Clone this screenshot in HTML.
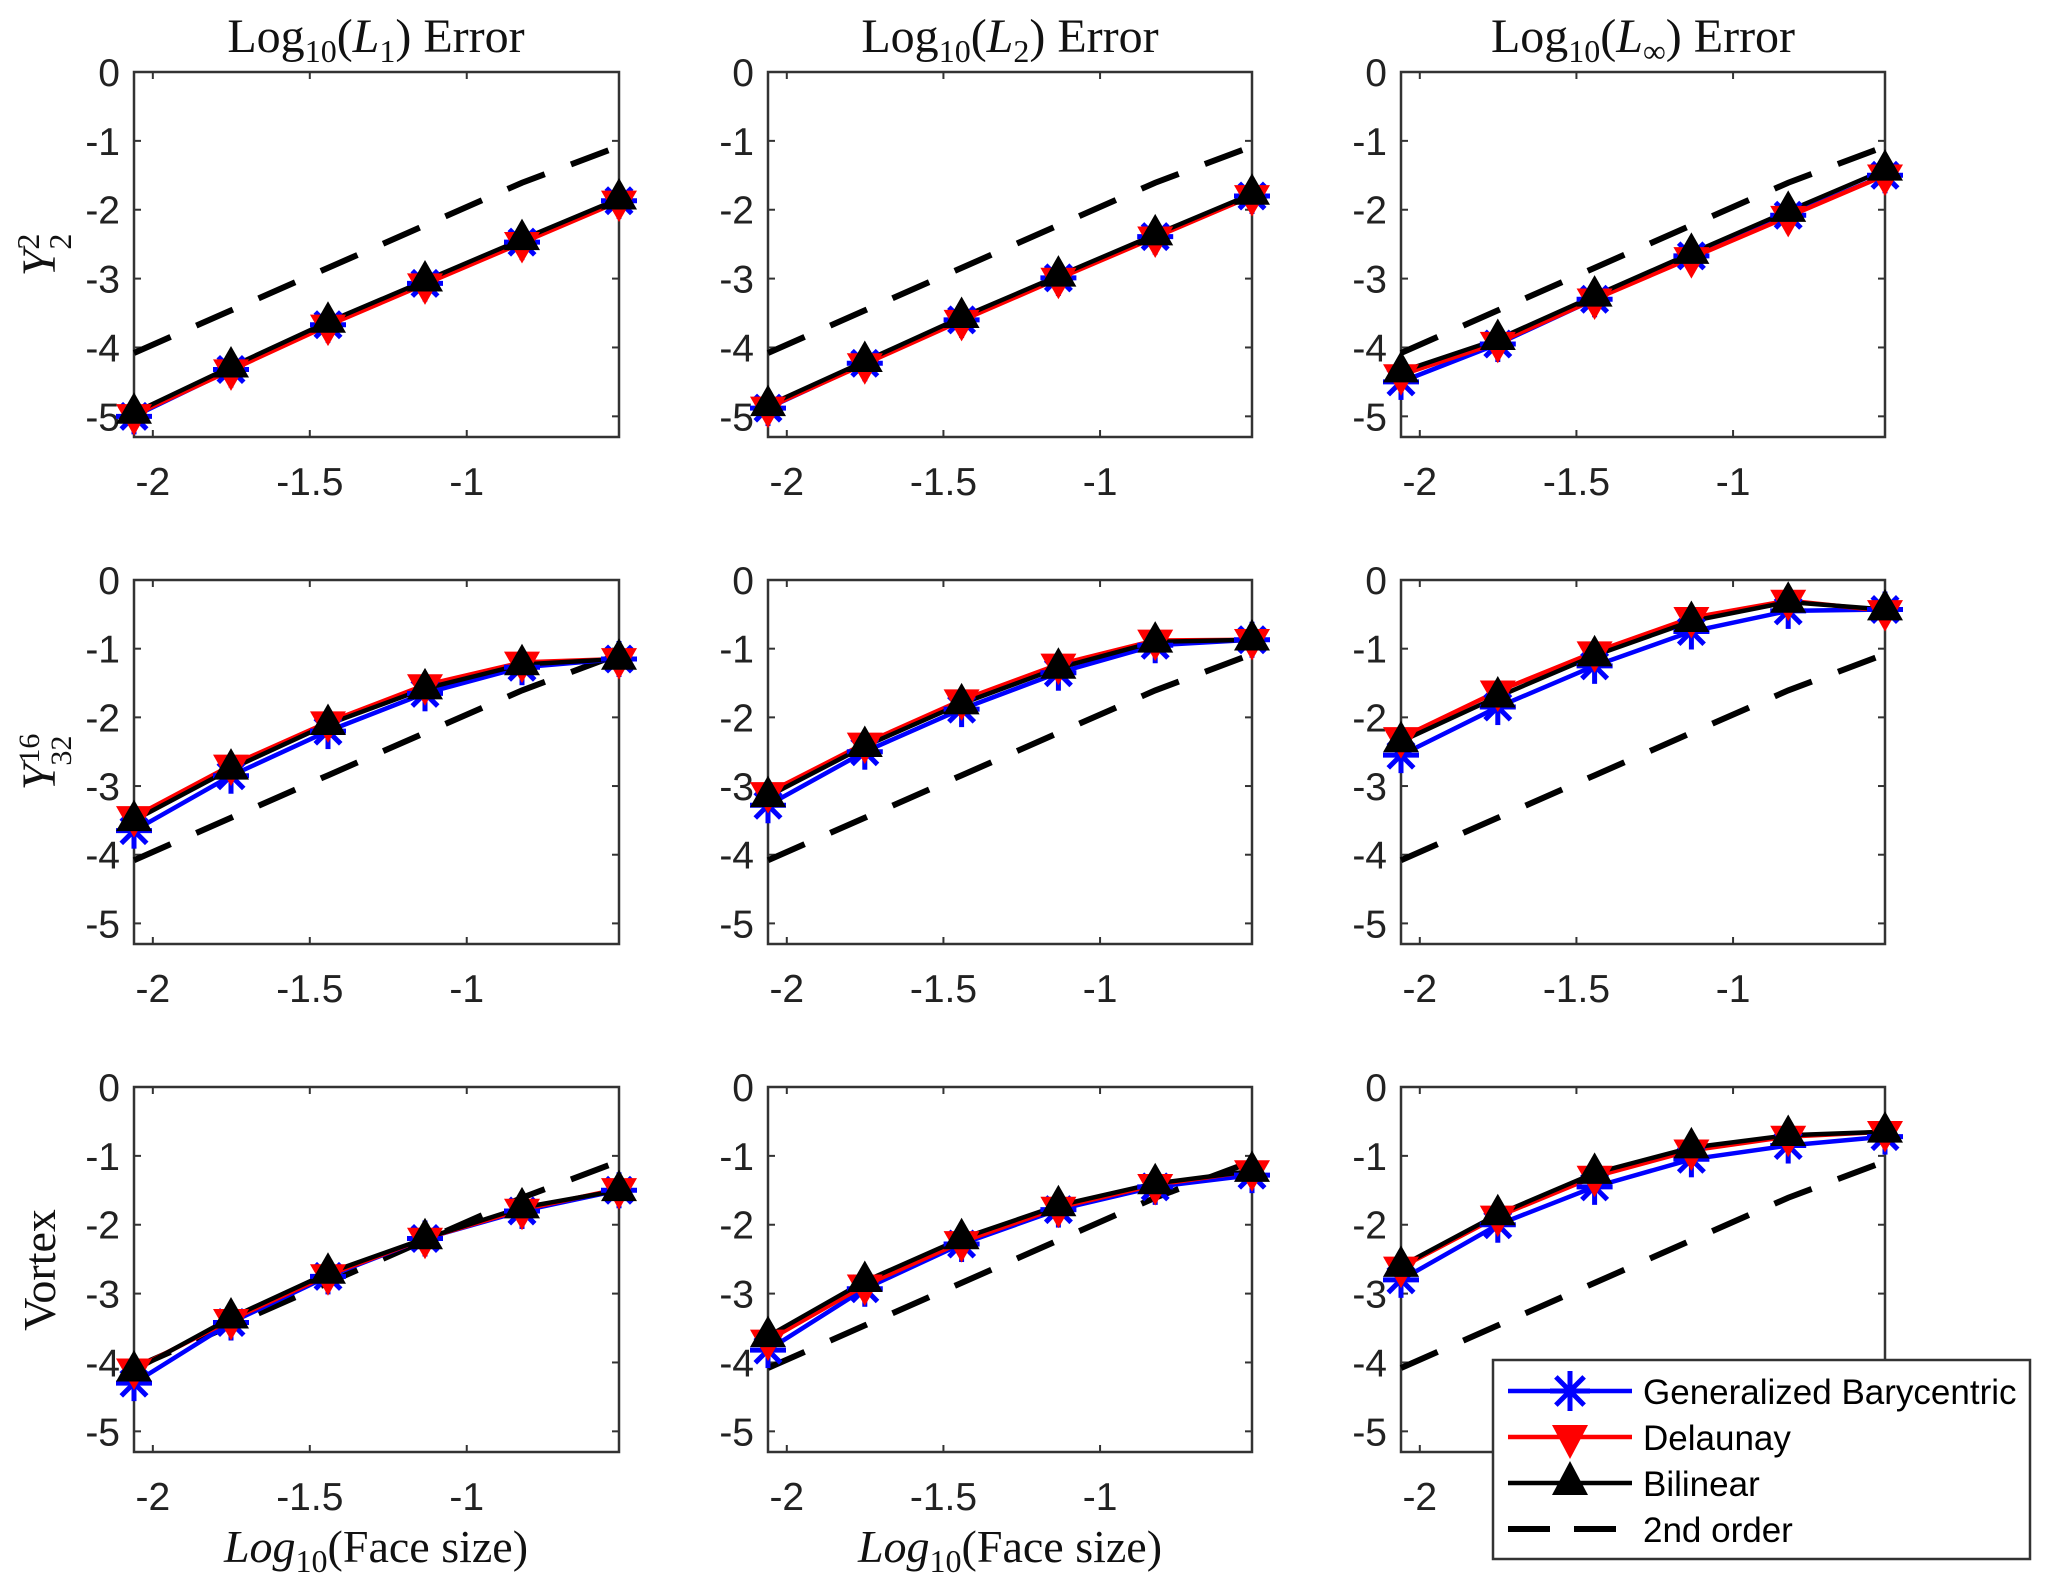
<!DOCTYPE html>
<html><head><meta charset="utf-8"><style>
html,body{margin:0;padding:0;background:#fff}
svg{display:block}
text{font-family:"Liberation Sans",sans-serif}
.serif{font-family:"Liberation Serif",serif}
</style></head><body>
<svg id="fig" width="2067" height="1590" viewBox="0 0 2067 1590" xmlns="http://www.w3.org/2000/svg"></svg>
<script>
// ---- data ----
const xTicks = [-2, -1.5, -1];
const xTickLabels = ["-2", "-1.5", "-1"];
const yTicks = [0, -1, -2, -3, -4, -5];
const yTickLabels = ["0", "-1", "-2", "-3", "-4", "-5"];
const faceSize = [-2.06, -1.751, -1.442, -1.133, -0.824, -0.515];
const secondOrder = [-4.08, -3.462, -2.844, -2.226, -1.608, -1.08];
const colTitles = ["L1", "L2", "Linf"];
const rowNames = ["Y22", "Y3216", "Vortex"];
const baryY22 = [[-5.0,-4.32,-3.67,-3.07,-2.47,-1.87],[-4.88,-4.23,-3.6,-2.99,-2.39,-1.8],[-4.5,-3.95,-3.3,-2.67,-2.08,-1.5]];
const delY22  = [[-4.98,-4.33,-3.68,-3.08,-2.48,-1.88],[-4.87,-4.24,-3.61,-3.0,-2.4,-1.8],[-4.4,-3.93,-3.3,-2.7,-2.1,-1.5]];
const bilY22  = [[-4.95,-4.28,-3.63,-3.03,-2.43,-1.84],[-4.84,-4.2,-3.56,-2.96,-2.36,-1.77],[-4.35,-3.88,-3.25,-2.63,-2.02,-1.42]];
const baryY32 = [[-3.65,-2.85,-2.2,-1.65,-1.27,-1.15],[-3.28,-2.5,-1.88,-1.35,-0.95,-0.87],[-2.55,-1.85,-1.25,-0.75,-0.45,-0.43]];
const delY32  = [[-3.45,-2.7,-2.07,-1.53,-1.2,-1.15],[-3.1,-2.38,-1.75,-1.23,-0.88,-0.87],[-2.3,-1.62,-1.05,-0.55,-0.3,-0.45]];
const bilY32  = [[-3.5,-2.75,-2.1,-1.58,-1.23,-1.15],[-3.15,-2.42,-1.8,-1.28,-0.9,-0.87],[-2.35,-1.7,-1.1,-0.6,-0.32,-0.43]];
const baryVor = [[-4.3,-3.42,-2.75,-2.2,-1.8,-1.5],[-3.82,-2.93,-2.28,-1.78,-1.45,-1.28],[-2.8,-2.0,-1.45,-1.05,-0.85,-0.72]];
const delVor  = [[-4.1,-3.38,-2.73,-2.2,-1.78,-1.48],[-3.68,-2.88,-2.25,-1.75,-1.42,-1.22],[-2.62,-1.88,-1.3,-0.92,-0.72,-0.65]];
const bilVor  = [[-4.12,-3.35,-2.7,-2.2,-1.75,-1.5],[-3.62,-2.82,-2.2,-1.72,-1.4,-1.22],[-2.6,-1.85,-1.25,-0.88,-0.7,-0.65]];
const baryAll = [baryY22, baryY32, baryVor];
const delAll = [delY22, delY32, delVor];
const bilAll = [bilY22, bilY32, bilVor];

const NS = "http://www.w3.org/2000/svg";
const svg = document.getElementById('fig');
function mk(tag, attrs, parent){const e=document.createElementNS(NS,tag);for(const k in attrs)e.setAttribute(k,attrs[k]);(parent||svg).appendChild(e);return e;}
const colL=[134,768,1401], colR=[619,1252,1885], rowT=[72,580,1087], rowB=[437,944,1452];
const XMIN=-2.06, XMAX=-0.515, YMIN=-5.3, YMAX=0;

function asterisk(g,x,y,c){
  const p=mk('g',{},g);
  
  
  const r=18;
  for(let a=0;a<4;a++){const t=a*Math.PI/4;mk('line',{x1:x-r*Math.cos(t),y1:y-r*Math.sin(t),x2:x+r*Math.cos(t),y2:y+r*Math.sin(t),stroke:c,'stroke-width':5},p);}
}
function tri(g,x,y,c,up,name){
  const s=18;
  const pts= up? `${x},${y-s*1.15} ${x-s},${y+s*0.6} ${x+s},${y+s*0.6}` : `${x},${y+s*1.15} ${x-s},${y-s*0.6} ${x+s},${y-s*0.6}`;
  const p=mk('polygon',{points:pts,fill:c},g);
  
  
}

for(let r=0;r<3;r++)for(let c=0;c<3;c++){
  const L=colL[c],R=colR[c],T=rowT[r],B=rowB[r];
  const sx=v=>L+(v-XMIN)/(XMAX-XMIN)*(R-L);
  const sy=v=>T+(YMAX-v)/(YMAX-YMIN)*(B-T);
  const g=mk('g',{});
  
  
  const box=mk('rect',{x:L,y:T,width:R-L,height:B-T,fill:'none',stroke:'#333','stroke-width':2.5},g);
  
  
  xTicks.forEach((v,i)=>{
    const x=sx(v);
    mk('line',{x1:x,y1:B,x2:x,y2:B-7,stroke:'#333','stroke-width':2},g);
    mk('line',{x1:x,y1:T,x2:x,y2:T+7,stroke:'#333','stroke-width':2},g);
    const t=mk('text',{x:x,y:B+58,'font-size':39,'text-anchor':'middle',fill:'#222'},g);
    t.textContent=xTickLabels[i];
    
    
  });
  yTicks.forEach((v,i)=>{
    const y=sy(v);
    mk('line',{x1:L,y1:y,x2:L+7,y2:y,stroke:'#333','stroke-width':2},g);
    mk('line',{x1:R,y1:y,x2:R-7,y2:y,stroke:'#333','stroke-width':2},g);
    const t=mk('text',{x:L-14,y:y+14,'font-size':39,'text-anchor':'end',fill:'#222'},g);
    t.textContent=yTickLabels[i];
    
    
  });
  const line=(arr,col,w,dash,name)=>{
    const p=mk('polyline',{points:arr.map((v,i)=>sx(faceSize[i])+','+sy(v)).join(' '),fill:'none',stroke:col,'stroke-width':w,'stroke-dasharray':dash||'none'},g);
    
    
  };
  line(secondOrder,'#000',6,'40,28','second-order-line');
  const b=baryAll[r][c], d=delAll[r][c], k=bilAll[r][c];
  line(b,'#0000ff',4.5,null,'barycentric-line');
  line(d,'#ff0000',4.5,null,'delaunay-line');
  line(k,'#000',4.5,null,'bilinear-line');
  b.forEach((v,i)=>asterisk(g,sx(faceSize[i]),sy(v),'#0000ff'));
  d.forEach((v,i)=>tri(g,sx(faceSize[i]),sy(v),'#ff0000',false,'delaunay-marker'));
  k.forEach((v,i)=>tri(g,sx(faceSize[i]),sy(v),'#000',true,'bilinear-marker'));
}
</script>
<script>
(function(){
const NS="http://www.w3.org/2000/svg";const svg=document.getElementById('fig');
function T(x,y,html,name,extra,fs){const t=document.createElementNS(NS,'text');t.setAttribute('x',x);t.setAttribute('y',y);t.setAttribute('class','serif');t.setAttribute('font-size',fs||48);t.setAttribute('text-anchor','middle');t.setAttribute('fill','#111');if(extra)t.setAttribute('transform',extra);t.innerHTML=html;svg.appendChild(t);return t;}
const sub=(s)=>`<tspan font-size="32" dy="10">${s}</tspan><tspan dy="-10">`;
T(376,52,'Log'+sub('10')+'(</tspan><tspan font-style="italic">L</tspan>'+sub('1')+') Error</tspan>','column-title-l1');
T(1010,52,'Log'+sub('10')+'(</tspan><tspan font-style="italic">L</tspan>'+sub('2')+') Error</tspan>','column-title-l2');
T(1643,52,'Log'+sub('10')+'(</tspan><tspan font-style="italic">L</tspan>'+sub('∞')+') Error</tspan>','column-title-linf');
T(55,255,'<tspan font-style="italic">Y</tspan><tspan font-size="32" dy="-16">2</tspan><tspan font-size="32" dx="-16" dy="32">2</tspan>','row-label-y22','rotate(-90 55 255)');
T(55,762,'<tspan font-style="italic">Y</tspan><tspan font-size="30" dy="-16">16</tspan><tspan font-size="30" dx="-32" dy="32">32</tspan>','row-label-y3216','rotate(-90 55 762)');
T(55,1270,'Vortex','row-label-vortex','rotate(-90 55 1270)',46);
T(376,1562,'<tspan font-style="italic">Log</tspan>'+sub('10')+'(Face size)</tspan>','x-axis-title-1',null,46);
T(1010,1562,'<tspan font-style="italic">Log</tspan>'+sub('10')+'(Face size)</tspan>','x-axis-title-2',null,46);
const g=document.createElementNS(NS,'g');svg.appendChild(g);
function E(tag,a){const e=document.createElementNS(NS,tag);for(const k in a)e.setAttribute(k,a[k]);g.appendChild(e);return e;}
E('rect',{x:1493,y:1360,width:537,height:199,fill:'#fff',stroke:'#333','stroke-width':2.5});
const rows=[['Generalized Barycentric','#0000ff','bary'],['Delaunay','#ff0000','del'],['Bilinear','#000','bil'],['2nd order','#000','dash']];
rows.forEach((r,i)=>{
  const y=1391+i*46;
  const ent=document.createElementNS(NS,'g');g.appendChild(ent);
  function A(tag,a){const e=document.createElementNS(NS,tag);for(const k in a)e.setAttribute(k,a[k]);ent.appendChild(e);return e;}
  const x1=1508,x2=1632,cx=1570;
  if(r[2]==='dash'){A('line',{x1:x1,x2:x2,y1:y,y2:y,stroke:'#000','stroke-width':6,'stroke-dasharray':'42,24'});}
  else{
    A('line',{x1:x1,x2:x2,y1:y,y2:y,stroke:r[1],'stroke-width':4.5});
    if(r[2]==='bary'){for(let a=0;a<4;a++){const t=a*Math.PI/4;A('line',{x1:cx-20*Math.cos(t),y1:y-20*Math.sin(t),x2:cx+20*Math.cos(t),y2:y+20*Math.sin(t),stroke:r[1],'stroke-width':5});}}
    else if(r[2]==='del'){A('polygon',{points:`${cx},${y+22} ${cx-18},${y-12} ${cx+18},${y-12}`,fill:r[1]});}
    else{A('polygon',{points:`${cx},${y-22} ${cx-18},${y+12} ${cx+18},${y+12}`,fill:r[1]});}
  }
  const t=A('text',{x:1643,y:y+13,'font-size':35,fill:'#000'});t.textContent=r[0];
});
})();
</script>
</body></html>
